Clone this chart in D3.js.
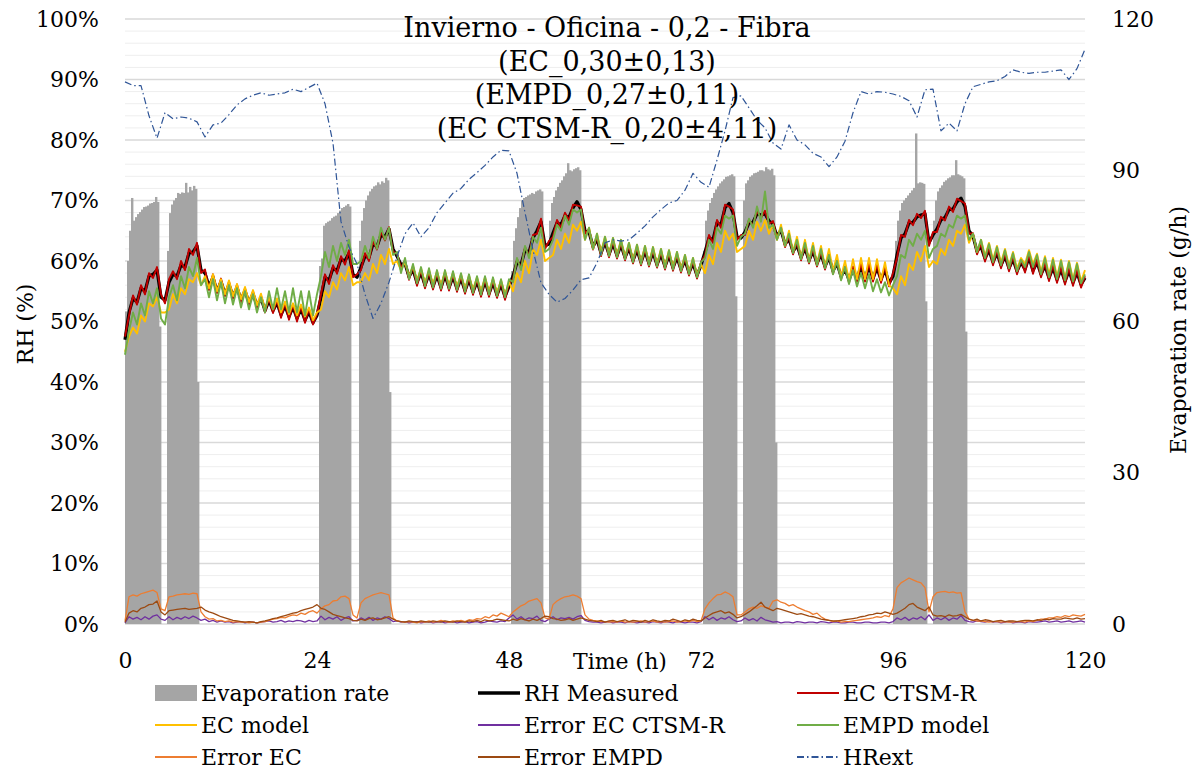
<!DOCTYPE html>
<html>
<head>
<meta charset="utf-8">
<script src="https://cdn.jsdelivr.net/npm/d3@7"></script>
<style>
  body { margin: 0; background: #fff; }
  text { font-family: "DejaVu Serif", serif; fill: #000; }
</style>
</head>
<body>
<svg id="chart" width="1195" height="771"></svg>
<script>
// Datos (paso 0,5 h para las series de HR y errores)
var titleLines = ["Invierno - Oficina - 0,2 - Fibra", "(EC_0,30\u00b10,13)", "(EMPD_0,27\u00b10,11)", "(EC CTSM-R_0,20\u00b14,11)"]
var xTicks = [0, 24, 48, 72, 96, 120]
var rhTicks = [0, 10, 20, 30, 40, 50, 60, 70, 80, 90, 100]
var evapTicks = [0, 30, 60, 90, 120]

var rhMeasured = [
 47.0,51.5, 53.8,53.2, 55.5,55.0, 57.5,57.8, 58.5,54.0,
 53.5,56.5, 57.8,57.5, 59.3,59.0, 61.3,61.5, 62.5,58.5,
 58.0,55.8, 57.3,55.0, 56.6,54.5, 56.1,54.2, 55.6,53.6,
 55.1,53.1, 54.6,52.6, 53.9,51.8, 53.5,51.8, 53.1,51.1,
 52.6,50.8, 52.4,50.5, 52.1,50.2, 51.6,49.8, 51.0,54.0,
 57.3,56.8, 58.8,58.4, 60.3,60.0, 61.3,57.8, 57.3,59.0,
 60.8,60.6, 62.8,62.4, 64.3,64.0, 65.3,62.0, 60.8,59.4,
 59.6,57.4, 58.6,56.4, 58.1,56.0, 57.8,55.8, 57.6,55.6,
 57.6,55.6, 57.4,55.4, 57.1,55.1, 56.9,54.9, 56.6,54.6,
 56.6,54.6, 56.4,54.4, 56.1,54.1, 55.8,57.5, 59.8,59.4,
 61.8,61.4, 63.8,65.0, 66.5,62.5, 62.8,64.6, 66.3,66.0,
 67.5,67.2, 68.8,69.8, 68.5,65.0, 64.8,62.4, 63.6,61.3,
 63.1,61.1, 62.9,60.9, 62.6,60.6, 62.1,60.1, 61.8,59.8,
 61.6,59.6, 61.4,59.4, 61.1,59.1, 60.9,58.9, 60.6,58.6,
 60.1,58.1, 59.6,57.6, 59.3,61.5, 63.8,63.5, 66.3,66.0,
 68.8,69.5, 68.0,64.0, 63.8,64.8, 66.3,66.4, 67.8,67.6,
 67.8,66.6, 66.1,64.1, 65.1,62.8, 63.6,61.6, 62.6,60.6,
 62.1,60.1, 61.6,59.6, 61.1,59.1, 60.6,58.4, 59.6,57.5,
 58.6,56.9, 58.6,57.1, 59.1,57.1, 59.1,57.1, 58.9,56.9,
 58.6,56.3, 57.5,61.0, 63.8,64.5, 66.3,66.4, 67.3,67.6,
 67.8,63.0, 64.3,65.3, 66.8,67.2, 68.5,68.6, 69.8,70.4,
 69.0,65.0, 64.1,61.6, 62.4,60.4, 61.8,59.8, 61.3,59.3,
 60.8,58.8, 60.3,58.3, 59.8,58.6, 60.6,58.4, 59.8,57.8,
 59.2,57.2, 58.9,56.9, 58.6,56.6, 58.4,56.4, 58.1,56.1,
 57.2]

var ecCtsmR = [
 47.5,51.0, 54.3,52.8, 56.0,54.5, 58.0,57.2, 59.0,54.5,
 53.0,57.0, 58.3,57.0, 60.0,58.5, 62.0,61.0, 63.0,58.0,
 58.6,55.2, 57.8,54.7, 57.1,54.2, 56.6,53.8, 56.1,53.2,
 55.5,52.7, 55.0,52.2, 54.3,51.5, 53.9,51.4, 53.6,50.6,
 53.1,50.3, 52.9,50.0, 52.6,49.8, 52.1,49.5, 51.2,54.5,
 57.8,56.2, 59.3,57.9, 60.8,59.4, 61.8,57.3, 57.8,58.5,
 61.3,60.0, 63.3,61.9, 64.8,63.4, 65.6,61.5, 61.3,58.9,
 60.1,56.9, 59.1,55.9, 58.6,55.5, 58.3,55.3, 58.1,55.1,
 58.1,55.1, 57.9,54.9, 57.6,54.6, 57.4,54.4, 57.1,54.1,
 57.1,54.1, 56.9,53.9, 56.6,53.6, 56.3,57.0, 60.3,58.9,
 62.3,60.9, 64.3,64.5, 67.0,62.0, 63.3,64.0, 66.8,65.5,
 68.0,66.7, 69.3,69.2, 69.0,64.5, 65.3,61.9, 64.1,60.8,
 63.6,60.6, 63.4,60.4, 63.1,60.1, 62.6,59.6, 62.3,59.3,
 62.1,59.1, 61.9,58.9, 61.6,58.6, 61.4,58.4, 61.1,58.1,
 60.6,57.6, 60.1,57.1, 59.8,61.0, 64.3,63.0, 66.8,65.5,
 69.3,69.0, 68.5,63.5, 64.3,64.3, 66.8,65.9, 68.3,67.1,
 68.3,66.1, 66.6,63.6, 65.6,62.3, 64.1,61.1, 63.1,60.1,
 62.6,59.6, 62.1,59.1, 61.6,58.6, 61.1,57.9, 60.1,57.0,
 59.1,56.4, 59.1,56.6, 59.6,56.6, 59.6,56.6, 59.4,56.4,
 59.1,55.8, 58.0,60.5, 64.3,64.0, 66.8,65.9, 67.8,67.1,
 68.3,62.5, 64.8,64.8, 67.3,66.7, 69.0,68.1, 70.3,69.9,
 69.5,64.5, 64.6,61.1, 62.9,59.9, 62.3,59.3, 61.8,58.8,
 61.3,58.3, 60.8,57.8, 60.3,58.1, 61.1,57.9, 60.3,57.3,
 59.7,56.7, 59.4,56.4, 59.1,56.1, 58.9,55.9, 58.6,55.6,
 57.5]

var ecModel = [
 45.0,47.5, 49.0,48.0, 51.0,50.0, 53.0,52.5, 54.0,51.5,
 51.5,52.0, 54.5,53.0, 55.5,54.5, 57.0,56.5, 58.0,56.0,
 57.5,55.5, 57.8,55.0, 57.0,54.5, 56.8,54.2, 56.2,53.7,
 55.7,53.2, 55.2,52.7, 54.6,52.0, 54.0,52.0, 53.8,51.5,
 53.3,51.2, 53.0,51.0, 52.8,50.8, 52.3,50.2, 51.5,52.0,
 55.0,54.0, 56.5,55.3, 58.0,56.8, 59.0,56.0, 56.5,56.5,
 58.0,56.8, 59.5,58.0, 61.0,59.5, 62.0,59.5, 60.0,58.5,
 59.8,57.5, 59.2,56.8, 58.8,56.4, 58.5,56.2, 58.3,56.0,
 58.3,56.0, 58.1,55.8, 57.8,55.5, 57.6,55.3, 57.3,55.0,
 57.3,55.0, 57.1,54.8, 56.8,54.5, 56.5,55.0, 58.0,56.5,
 60.0,58.0, 62.0,61.0, 63.5,60.0, 60.5,61.0, 63.5,62.0,
 64.5,63.0, 66.0,65.0, 66.5,63.5, 65.5,62.0, 64.5,61.5,
 64.0,61.2, 63.8,61.0, 63.5,60.7, 63.0,60.2, 62.7,59.9,
 62.5,59.7, 62.3,59.5, 62.0,59.2, 61.8,59.0, 61.5,58.7,
 61.0,58.2, 60.5,57.7, 59.5,58.0, 61.0,59.5, 63.0,61.5,
 65.0,63.5, 64.5,61.5, 62.0,62.5, 65.0,63.5, 66.5,65.0,
 66.8,64.5, 66.0,63.5, 66.0,62.5, 65.0,61.5, 64.0,60.5,
 63.5,60.0, 63.0,59.5, 62.5,59.0, 62.0,58.3, 61.0,57.3,
 60.0,56.8, 60.3,57.0, 60.5,57.0, 60.5,57.0, 60.3,56.8,
 59.8,56.0, 55.5,54.5, 57.5,56.0, 59.5,58.5, 61.5,60.0,
 62.5,59.0, 60.0,59.5, 62.0,61.0, 63.5,62.5, 65.0,64.5,
 66.0,63.0, 64.5,61.5, 63.5,60.8, 63.0,60.2, 62.5,59.7,
 62.0,59.2, 61.5,58.7, 60.5,59.5, 61.8,59.5, 61.2,58.2,
 60.8,57.7, 60.5,57.4, 60.2,57.1, 60.0,56.9, 59.7,56.6,
 58.5]

var empdModel = [
 44.5,48.5, 51.5,49.5, 53.0,51.0, 55.0,53.0, 55.5,50.5,
 49.5,54.0, 56.0,53.5, 57.5,55.5, 59.0,57.5, 60.5,56.0,
 57.0,54.0, 57.0,53.5, 56.5,53.0, 56.0,52.8, 55.5,52.3,
 55.0,52.0, 54.5,51.5, 54.0,51.5, 55.0,52.0, 55.5,52.0,
 55.0,51.5, 55.5,51.5, 55.0,51.0, 55.0,51.0, 54.5,57.5,
 61.5,59.0, 62.5,60.0, 63.0,61.0, 63.5,59.5, 59.5,60.0,
 62.5,60.5, 64.0,62.0, 65.5,63.5, 65.5,61.0, 61.5,58.0,
 60.5,57.0, 59.5,56.3, 59.0,55.8, 58.8,55.6, 58.5,55.4,
 58.5,55.4, 58.3,55.2, 58.0,54.9, 57.8,54.7, 57.5,54.4,
 57.5,54.4, 57.3,54.2, 57.0,54.0, 57.0,56.5, 60.5,58.5,
 62.5,60.5, 64.0,63.0, 65.5,61.5, 62.0,63.5, 66.0,65.0,
 67.5,66.0, 68.5,68.0, 68.5,63.5, 65.5,62.0, 64.5,61.0,
 64.0,60.8, 63.8,60.6, 63.5,60.3, 63.0,59.8, 62.7,59.5,
 62.5,59.3, 62.3,59.1, 62.0,58.8, 61.8,58.6, 61.5,58.3,
 61.0,57.8, 60.5,57.3, 59.8,60.5, 63.5,62.0, 65.5,64.5,
 67.5,67.0, 67.5,62.5, 64.0,64.5, 67.0,65.5, 69.0,66.5,
 71.5,65.5, 66.0,63.5, 65.5,62.5, 64.5,61.3, 63.5,60.3,
 63.0,59.8, 62.5,59.3, 62.0,58.8, 61.0,57.8, 60.0,56.8,
 59.0,56.2, 58.5,55.8, 58.0,55.5, 57.8,55.0, 57.0,54.8,
 56.5,54.3, 56.0,57.5, 61.0,60.5, 63.5,62.5, 64.5,63.5,
 65.0,60.5, 62.0,62.5, 64.5,64.0, 66.0,65.5, 67.5,67.0,
 67.5,63.5, 64.5,61.5, 63.5,60.5, 62.8,59.8, 62.3,59.3,
 61.8,58.8, 61.3,58.3, 60.2,59.0, 61.5,59.0, 61.0,57.8,
 60.5,57.3, 60.2,57.0, 60.0,56.8, 59.8,56.6, 59.5,56.3,
 57.8]

var errorCtsmR = [
 0.2,1.2, 0.8,1.1, 0.7,1.2, 0.8,1.3, 1.5,0.8,
 0.6,1.2, 0.7,1.1, 0.8,1.2, 0.9,1.3, 1.0,0.6,
 0.8,0.4, 0.6,0.3, 0.5,0.3, 0.4,0.2, 0.3,0.4,
 0.2,0.3, 0.3,0.2, 0.3,0.4, 0.5,0.3, 0.4,0.6,
 0.3,0.5, 0.4,0.6, 0.5,0.3, 0.6,0.4, 0.5,1.3,
 0.7,1.1, 0.8,1.2, 0.6,1.0, 1.2,0.5, 0.6,1.0,
 0.7,1.1, 0.6,1.0, 0.8,1.2, 0.9,0.4, 0.5,0.3,
 0.4,0.2, 0.3,0.4, 0.2,0.3, 0.4,0.2, 0.3,0.4,
 0.2,0.3, 0.4,0.2, 0.3,0.4, 0.2,0.3, 0.4,0.2,
 0.3,0.5, 0.4,0.3, 0.5,0.4, 1.0,1.5, 0.8,1.2,
 0.7,1.0, 0.9,1.3, 0.6,0.4, 0.8,1.2, 0.7,1.0,
 0.9,1.1, 0.8,1.2, 1.4,0.6, 0.4,0.3, 0.3,0.2,
 0.3,0.4, 0.2,0.3, 0.3,0.2, 0.4,0.3, 0.2,0.3,
 0.3,0.2, 0.4,0.3, 0.2,0.4, 0.3,0.2, 0.4,0.3,
 0.2,0.3, 0.3,0.2, 0.4,1.2, 0.7,1.1, 0.6,1.0,
 0.8,1.2, 0.7,0.4, 0.5,1.0, 0.6,0.9, 0.5,1.1,
 0.7,0.5, 0.3,0.4, 0.2,0.3, 0.3,0.2, 0.4,0.3,
 0.2,0.3, 0.3,0.2, 0.4,0.3, 0.2,0.3, 0.3,0.2,
 0.2,0.3, 0.3,0.2, 0.2,0.3, 0.3,0.2, 0.2,0.3,
 0.3,0.2, 0.4,1.0, 0.7,1.1, 0.6,1.0, 0.8,1.2,
 0.7,1.5, 0.6,1.0, 0.7,1.1, 0.6,1.0, 0.8,1.4,
 0.6,0.4, 0.3,0.5, 0.4,0.3, 0.5,0.3, 0.4,0.2,
 0.3,0.4, 0.2,0.3, 0.3,0.2, 0.4,0.3, 0.3,0.4,
 0.5,0.3, 0.4,0.5, 0.3,0.4, 0.5,0.3, 0.4,0.5,
 0.3]

var errorEc = [
 0.5,4.5, 4.8,4.6, 5.0,5.2, 5.4,5.6, 5.2,2.5,
 2.2,4.5, 4.6,4.8, 4.9,5.0, 4.9,5.1, 5.0,2.0,
 1.2,0.8, 0.9,0.5, 0.6,0.4, 0.5,0.3, 0.4,0.3,
 0.3,0.2, 0.3,0.2, 0.3,0.4, 0.6,0.8, 0.9,1.1,
 1.0,1.3, 1.5,1.4, 1.8,1.6, 2.0,2.2, 1.8,2.5,
 3.0,3.2, 3.8,3.9, 4.5,4.6, 4.2,1.5, 1.0,3.5,
 4.2,4.5, 4.8,5.0, 5.2,5.0, 4.8,1.0, 0.5,0.4,
 0.3,0.4, 0.3,0.2, 0.4,0.3, 0.5,0.3, 0.4,0.6,
 0.4,0.3, 0.5,0.4, 0.6,0.4, 0.7,0.6, 0.9,0.8,
 1.2,1.0, 1.5,1.3, 1.8,1.5, 1.2,2.0, 2.5,3.0,
 3.3,3.8, 4.0,4.2, 3.5,1.0, 0.8,3.2, 3.8,4.2,
 4.5,4.6, 4.8,4.6, 4.2,1.5, 0.8,0.6, 0.5,0.4,
 0.4,0.3, 0.4,0.3, 0.5,0.3, 0.4,0.3, 0.4,0.5,
 0.3,0.4, 0.5,0.3, 0.4,0.3, 0.4,0.5, 0.3,0.4,
 0.5,0.4, 0.6,0.4, 0.5,2.5, 3.5,4.2, 4.8,4.9,
 5.3,5.0, 4.5,1.5, 1.5,2.0, 2.5,2.8, 2.6,3.0,
 2.8,2.6, 3.8,4.0, 3.6,3.4, 3.0,3.2, 2.8,2.5,
 2.2,2.0, 1.6,1.8, 1.2,0.8, 0.6,0.4, 0.5,0.3,
 0.4,0.4, 0.5,0.6, 0.7,0.8, 0.9,1.0, 1.2,1.1,
 1.4,1.2, 2.5,6.0, 6.8,7.2, 7.6,7.3, 7.0,6.8,
 6.0,2.0, 4.5,5.2, 5.3,5.4, 5.2,5.3, 5.1,5.2,
 2.0,0.8, 0.6,0.5, 0.5,0.4, 0.3,0.4, 0.4,0.3,
 0.4,0.3, 0.3,0.4, 0.4,0.3, 0.5,0.4, 0.6,0.8,
 0.8,1.0, 1.0,1.2, 1.1,1.4, 1.2,1.5, 1.4,1.3,
 1.6]

var errorEmpd = [
 0.3,1.8, 2.2,2.0, 2.6,2.8, 3.2,3.3, 3.8,2.0,
 1.5,2.2, 2.3,2.4, 2.5,2.6, 2.4,2.5, 2.6,2.8,
 2.3,2.0, 1.8,1.5, 1.2,1.0, 0.8,0.6, 0.5,0.4,
 0.3,0.4, 0.3,0.2, 0.4,0.5, 0.7,0.9, 1.0,1.2,
 1.4,1.6, 1.8,1.9, 2.2,2.4, 2.6,2.8, 3.2,2.6,
 2.4,2.0, 1.6,1.4, 1.2,1.0, 0.9,0.6, 0.5,0.8,
 0.6,0.9, 1.0,0.7, 0.8,1.0, 1.2,0.8, 0.5,0.4,
 0.3,0.5, 0.4,0.3, 0.5,0.4, 0.3,0.5, 0.4,0.3,
 0.5,0.4, 0.3,0.5, 0.4,0.3, 0.5,0.4, 0.6,0.4,
 0.7,0.5, 0.6,0.8, 0.7,0.6, 0.5,0.8, 0.6,0.9,
 0.7,0.5, 0.8,0.6, 0.9,1.3, 1.2,0.9, 0.8,0.6,
 0.7,0.9, 0.6,0.8, 1.0,0.8, 0.6,0.5, 0.4,0.6,
 0.3,0.5, 0.6,0.4, 0.5,0.7, 0.4,0.6, 0.5,0.3,
 0.6,0.4, 0.7,0.5, 0.4,0.6, 0.5,0.8, 0.6,0.4,
 0.7,0.5, 0.8,0.6, 0.5,1.0, 1.4,1.8, 2.0,2.2,
 1.8,2.0, 1.6,1.0, 1.2,1.6, 2.0,2.5, 3.0,3.6,
 2.8,2.5, 2.2,2.6, 2.4,2.2, 2.0,1.8, 1.6,1.7,
 1.5,1.3, 1.2,1.0, 0.8,0.7, 0.6,0.5, 0.5,0.6,
 0.7,0.8, 0.9,1.0, 1.2,1.3, 1.5,1.6, 1.8,1.7,
 2.0,1.8, 1.6,1.8, 2.2,2.6, 3.2,3.4, 2.8,2.5,
 2.2,2.8, 1.5,1.3, 1.4,1.2, 1.5,1.3, 1.4,1.6,
 1.2,0.8, 0.6,0.8, 0.5,0.7, 0.6,0.4, 0.5,0.6,
 0.4,0.5, 0.5,0.4, 0.5,0.6, 0.6,0.5, 0.7,0.6,
 0.8,0.7, 0.9,0.8, 0.8,1.0, 0.9,0.8, 1.0,0.8,
 0.9]

// HRext, paso de 1 h
var hrExt = [
 89.6, 89.0, 89.0, 84.0, 80.3, 84.5, 83.5, 83.8, 83.6, 83.0,
 80.5, 82.5, 82.8, 84.2, 85.8, 86.8, 87.4, 87.8, 87.4, 87.6,
 87.8, 88.4, 88.0, 88.7, 89.4, 86.0, 79.5, 66.5, 62.3, 59.5,
 54.5, 50.5, 53.0, 56.5, 60.7, 64.5, 66.3, 64.0, 65.5, 68.0,
 69.6, 71.2, 72.0, 73.5, 74.6, 75.8, 77.2, 78.3, 78.2, 74.5,
 68.0, 61.8, 56.4, 54.5, 53.2, 53.8, 55.2, 56.9, 57.2, 59.7,
 63.0, 63.5, 63.3, 63.5, 64.6, 65.8, 67.3, 68.5, 69.6, 70.0,
 71.7, 74.5, 73.0, 72.2, 76.7, 81.5, 87.0, 87.3, 85.3, 83.3,
 82.0, 79.5, 78.5, 82.5, 80.0, 79.2, 77.8, 77.2, 75.6, 77.2,
 79.8, 84.5, 88.0, 87.6, 88.0, 87.9, 87.6, 87.2, 86.5, 83.8,
 88.3, 88.4, 81.5, 82.8, 81.5, 86.0, 88.8, 89.2, 89.6, 89.8,
 90.5, 91.6, 91.2, 91.0, 91.2, 91.2, 91.4, 91.6, 90.0, 91.8,
 95.0]

// Tasa de evaporacion (g/h), bloques de ocupacion con paso de 0,25 h
var evapStart = [0, 5.25, 24.25, 29.25, 48.25, 53, 72.25, 77.25, 96, 101]
var evapBlocks = [
 [62, 72, 78, 84.5, 80, 80.7, 81.3, 81.7, 82.2, 82.7, 82.8, 83, 83.4, 83.5, 83.7, 84.7, 83.7, 59],
 [74, 81.5, 83.2, 84, 84.5, 85.5, 85.3, 85.6, 85.5, 87.5, 85.6, 86.7, 86, 86.9, 86.3, 48],
 [71, 72.5, 79, 79.5, 79.8, 80, 80.5, 80.8, 81, 81.5, 82, 82.5, 82.7, 83, 83.3, 82.8],
 [76, 80, 82.5, 84, 85, 85.8, 86.3, 86.8, 87, 87.6, 87.2, 87.8, 87.5, 88.5, 88, 46],
 [70, 76, 78.5, 80.7, 82.5, 84, 84.5, 84.7, 85, 85.2, 85.5, 85.3, 85.8, 86, 86.2, 85.8],
 [80, 83.5, 84.7, 86, 86.7, 87.5, 88, 88.8, 89.4, 91.4, 90, 89.8, 90.2, 90.4, 90.6, 90],
 [74, 80, 82, 83.5, 84.5, 85.5, 86.2, 86.8, 87.4, 87.8, 88.2, 88.7, 88.8, 89, 89.2, 88.8, 65],
 [84, 87.4, 88, 88.7, 89, 89.4, 89.5, 89.7, 90, 90, 89.8, 90.6, 90.2, 90, 90.3, 89, 36],
 [70, 76, 80, 82, 83.5, 84, 84.5, 85, 85.5, 86, 86.5, 97.3, 87.4, 87.6, 87.5, 87.3, 64],
 [80, 84, 85.8, 86.5, 87, 87.7, 88, 88.4, 88.6, 89, 89, 92, 89.2, 89, 88.8, 88.4, 58]
]

var tHalf = d3.range(0, 120.25, 0.5)
var tHour = d3.range(0, 121, 1)

var svg = d3.select("#chart")

var x = d3.scaleLinear().domain([0, 120]).range([125, 1085])
var yL = d3.scaleLinear().domain([0, 100]).range([624, 19])
var yR = d3.scaleLinear().domain([0, 120]).range([624, 19])

// rejilla: secundaria cada 2 %, principal cada 10 %
svg.append("g")
    .selectAll("line")
    .data(d3.range(0, 101, 2))
    .join("line")
    .attr("x1", x(0)).attr("x2", x(120))
    .attr("y1", d => yL(d)).attr("y2", d => yL(d))
    .attr("stroke", d => d % 10 == 0 ? "#d9d9d9" : "#eeeeee")
    .attr("stroke-width", d => d % 10 == 0 ? 1.4 : 1)

// barras de evaporacion
var evapData = []
evapStart.forEach(function(s, b) {
    evapBlocks[b].forEach(function(v, i) { evapData.push({t: s + i * 0.25, v: v}) })
})

svg.append("g")
    .attr("fill", "#a5a5a5")
    .selectAll("rect")
    .data(evapData)
    .join("rect")
    .attr("x", d => x(d.t))
    .attr("width", d => x(d.t + 0.25) - x(d.t) + 0.4)
    .attr("y", d => yR(d.v))
    .attr("height", d => yR(0) - yR(d.v))

// lineas
var series = [
    {name: "RH Measured", values: rhMeasured, t: tHalf, color: "#000000", width: 3.2},
    {name: "EC CTSM-R", values: ecCtsmR, t: tHalf, color: "#c00000", width: 1.9},
    {name: "EC model", values: ecModel, t: tHalf, color: "#ffc000", width: 1.9},
    {name: "Error EC CTSM-R", values: errorCtsmR, t: tHalf, color: "#7030a0", width: 1.3},
    {name: "EMPD model", values: empdModel, t: tHalf, color: "#70ad47", width: 1.9},
    {name: "Error EC", values: errorEc, t: tHalf, color: "#ed7d31", width: 1.3},
    {name: "Error EMPD", values: errorEmpd, t: tHalf, color: "#9c4a12", width: 1.3},
    {name: "HRext", values: hrExt, t: tHour, color: "#2f5597", width: 1.2, dash: "7,3,1.5,3"}
]

series.forEach(function(s) {
    var line = d3.line()
        .x((d, i) => x(s.t[i]))
        .y(d => yL(d))
    svg.append("path")
        .datum(s.values)
        .attr("fill", "none")
        .attr("stroke", s.color)
        .attr("stroke-width", s.width)
        .attr("stroke-linejoin", "round")
        .attr("stroke-dasharray", s.dash || null)
        .attr("d", line)
})

// ejes
var axisL = svg.append("g")
    .attr("transform", "translate(125,0)")
    .call(d3.axisLeft(yL).tickValues(rhTicks).tickFormat(d => d + "%").tickSize(0).tickPadding(26))
var axisR = svg.append("g")
    .attr("transform", "translate(1085,0)")
    .call(d3.axisRight(yR).tickValues(evapTicks).tickSize(0).tickPadding(27))
var axisB = svg.append("g")
    .attr("transform", "translate(0,624)")
    .call(d3.axisBottom(x).tickValues(xTicks).tickSize(0).tickPadding(28))

;[axisL, axisR, axisB].forEach(function(a) {
    a.select(".domain").remove()
    a.selectAll("text")
        .attr("font-family", "DejaVu Serif")
        .attr("font-size", 22)
        .attr("fill", "#000")
})

// titulos de ejes
svg.append("text")
    .attr("transform", "translate(33,324) rotate(-90)")
    .attr("text-anchor", "middle")
    .attr("font-size", 22)
    .text("RH (%)")

svg.append("text")
    .attr("transform", "translate(1186,330) rotate(-90)")
    .attr("text-anchor", "middle")
    .attr("font-size", 22)
    .text("Evaporation rate (g/h)")

svg.append("text")
    .attr("x", 620).attr("y", 669)
    .attr("text-anchor", "middle")
    .attr("font-size", 22)
    .text("Time (h)")

// titulo
svg.append("g")
    .selectAll("text")
    .data(titleLines)
    .join("text")
    .attr("x", 607)
    .attr("y", (d, i) => 37 + i * 33.5)
    .attr("text-anchor", "middle")
    .attr("font-size", 27)
    .text(d => d)

// leyenda
var legendItems = [{name: "Evaporation rate", color: "#a5a5a5", bar: true}].concat(series)
var legendCols = [155, 478, 797]
var legendRows = [693, 725, 757]

var leg = svg.append("g")
    .selectAll("g")
    .data(legendItems)
    .join("g")
    .attr("transform", (d, i) => "translate(" + legendCols[i % 3] + "," + legendRows[Math.floor(i / 3)] + ")")

leg.filter(d => d.bar)
    .append("rect")
    .attr("x", 0).attr("y", -8)
    .attr("width", 42).attr("height", 16)
    .attr("fill", d => d.color)

leg.filter(d => !d.bar)
    .append("line")
    .attr("x1", 0).attr("x2", 42)
    .attr("y1", 0).attr("y2", 0)
    .attr("stroke", d => d.color)
    .attr("stroke-width", d => d.name == "RH Measured" ? 3.5 : 1.8)
    .attr("stroke-dasharray", d => d.dash || null)

leg.append("text")
    .attr("x", 46)
    .attr("y", 8)
    .attr("font-size", 22)
    .text(d => d.name)
</script>
</body>
</html>
